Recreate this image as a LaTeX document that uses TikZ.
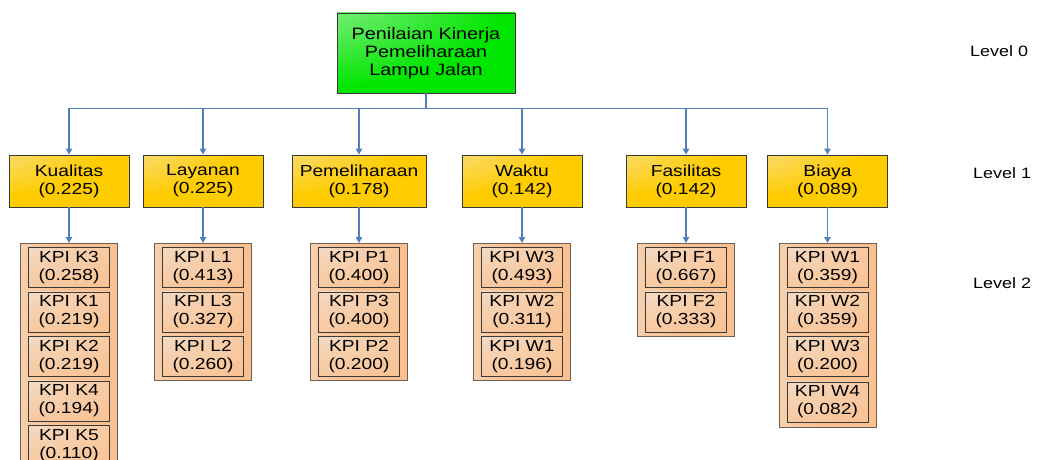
\documentclass[tikz,border=0pt]{standalone}
\usepackage{fontspec}
\setmainfont{Liberation Sans}[FakeStretch=1.2]
\usetikzlibrary{arrows.meta}
\definecolor{conncol}{HTML}{4F81BD}
\definecolor{goldA}{HTML}{EEEBE0}
\definecolor{goldM}{HTML}{F7DC70}
\definecolor{goldB}{HTML}{FFCC00}
\definecolor{greenA}{HTML}{EAF4EA}
\definecolor{greenM}{HTML}{70EC70}
\definecolor{greenB}{HTML}{00E600}
\definecolor{peachA}{HTML}{ECEAE8}
\definecolor{peachM}{HTML}{F6D2B2}
\definecolor{peachB}{HTML}{FAC08F}
\definecolor{edgeD}{HTML}{3A3A3A}
\definecolor{edgeC}{HTML}{6E5F52}
\pgfdeclareradialshading{goldglow}{\pgfpoint{-50bp}{50bp}}{color(0bp)=(goldA); color(22bp)=(goldM); color(50bp)=(goldB); color(160bp)=(goldB)}
\pgfdeclareradialshading{greenglow}{\pgfpoint{-50bp}{50bp}}{color(0bp)=(greenA); color(25bp)=(greenM); color(55bp)=(greenB); color(160bp)=(greenB)}
\pgfdeclareradialshading{peachglow}{\pgfpoint{-45bp}{50bp}}{color(0bp)=(peachA); color(35bp)=(peachM); color(75bp)=(peachB); color(160bp)=(peachB)}
\pgfdeclarehorizontalshading{peachside}{100bp}{color(0bp)=(peachA); color(22bp)=(peachM); color(45bp)=(peachB); color(100bp)=(peachB)}
\newcommand{\fs}{\fontsize{16}{17.8}\selectfont}
\tikzset{
  box/.style={draw=edgeD, line width=0.9pt, inner sep=0pt, align=center, font=\fs},
  titlebox/.style={box, minimum width=178pt, minimum height=80pt,
     font=\fontsize{16.5}{18}\selectfont, shade, shading=greenglow},
  lvlone/.style={box, minimum width=120pt, minimum height=52pt, shade, shading=goldglow},
  group/.style={draw=edgeC, line width=1pt, inner sep=0pt, anchor=north, minimum width=97pt,
     shade, shading=peachside},
  kpi/.style={box, anchor=north, minimum width=81pt, minimum height=40pt,
     shade, shading=peachglow},
  conn/.style={draw=conncol, line width=1.2pt, -{Triangle[length=6pt,width=6.5pt]}},
  lvllab/.style={anchor=west, inner sep=0pt, font=\fontsize{15}{17}\selectfont}
}
\begin{document}
\begin{tikzpicture}[x=1pt,y=-1pt]
\useasboundingbox (0,0) rectangle (1044,460);
\fill[white] (0,0) rectangle (1044,460);

% Level 0
\node[titlebox] (title) at (426,53) {Penilaian Kinerja\\Pemeliharaan\\Lampu Jalan};

% Level 1
\node[lvlone] (k1) at (69,181) {Kualitas\\(0.225)};
\node[lvlone] (l1) at (203,181) {Layanan\\(0.225)};
\node[lvlone, minimum width=134pt] (p1) at (359,181) {Pemeliharaan\\(0.178)};
\node[lvlone] (w1) at (522,181) {Waktu\\(0.142)};
\node[lvlone] (f1) at (686,181) {Fasilitas\\(0.142)};
\node[lvlone] (b1) at (827.5,181) {Biaya\\(0.089)};

% Level 2 containers
\node[group, minimum height=229pt] (gk) at (69,243) {};
\node[group, minimum height=137pt] (gl) at (203,243) {};
\node[group, minimum height=137pt] (gp) at (359,243) {};
\node[group, minimum height=137pt] (gw) at (522,243) {};
\node[group, minimum height=93pt] (gf) at (686,243) {};
\node[group, minimum height=184pt] (gb) at (827.5,243) {};

% Level 2 items
\node[kpi] (k-1) at (69,247) {KPI K3\\(0.258)};
\node[kpi] (k-2) at (69,291.5) {KPI K1\\(0.219)};
\node[kpi] (k-3) at (69,336) {KPI K2\\(0.219)};
\node[kpi] (k-4) at (69,380.5) {KPI K4\\(0.194)};
\node[kpi] (k-5) at (69,425) {KPI K5\\(0.110)};

\node[kpi] (l-1) at (203,247) {KPI L1\\(0.413)};
\node[kpi] (l-2) at (203,291.5) {KPI L3\\(0.327)};
\node[kpi] (l-3) at (203,336) {KPI L2\\(0.260)};

\node[kpi] (p-1) at (359,247) {KPI P1\\(0.400)};
\node[kpi] (p-2) at (359,291.5) {KPI P3\\(0.400)};
\node[kpi] (p-3) at (359,336) {KPI P2\\(0.200)};

\node[kpi] (w-1) at (522,247) {KPI W3\\(0.493)};
\node[kpi] (w-2) at (522,291.5) {KPI W2\\(0.311)};
\node[kpi] (w-3) at (522,336) {KPI W1\\(0.196)};

\node[kpi] (f-1) at (686,247) {KPI F1\\(0.667)};
\node[kpi] (f-2) at (686,291.5) {KPI F2\\(0.333)};

\node[kpi] (b-1) at (827.5,247) {KPI W1\\(0.359)};
\node[kpi] (b-2) at (827.5,291.5) {KPI W2\\(0.359)};
\node[kpi] (b-3) at (827.5,336) {KPI W3\\(0.200)};
\node[kpi] (b-4) at (827.5,381.5) {KPI W4\\(0.082)};

% Connectors level 0 -> level 1
\foreach \n in {k1,l1,p1,w1,f1,b1}
  \draw[conn] (title.south) -- ++(0,15) -| (\n.north);

% Connectors level 1 -> level 2
\draw[conn] (k1.south) -- (gk.north);
\draw[conn] (l1.south) -- (gl.north);
\draw[conn] (p1.south) -- (gp.north);
\draw[conn] (w1.south) -- (gw.north);
\draw[conn] (f1.south) -- (gf.north);
\draw[conn] (b1.south) -- (gb.north);

% Level labels
\node[lvllab] (lv0) at (970,51) {Level 0};
\node[lvllab] (lv1) at (973,173) {Level 1};
\node[lvllab] (lv2) at (973,283) {Level 2};
\end{tikzpicture}
\end{document}
